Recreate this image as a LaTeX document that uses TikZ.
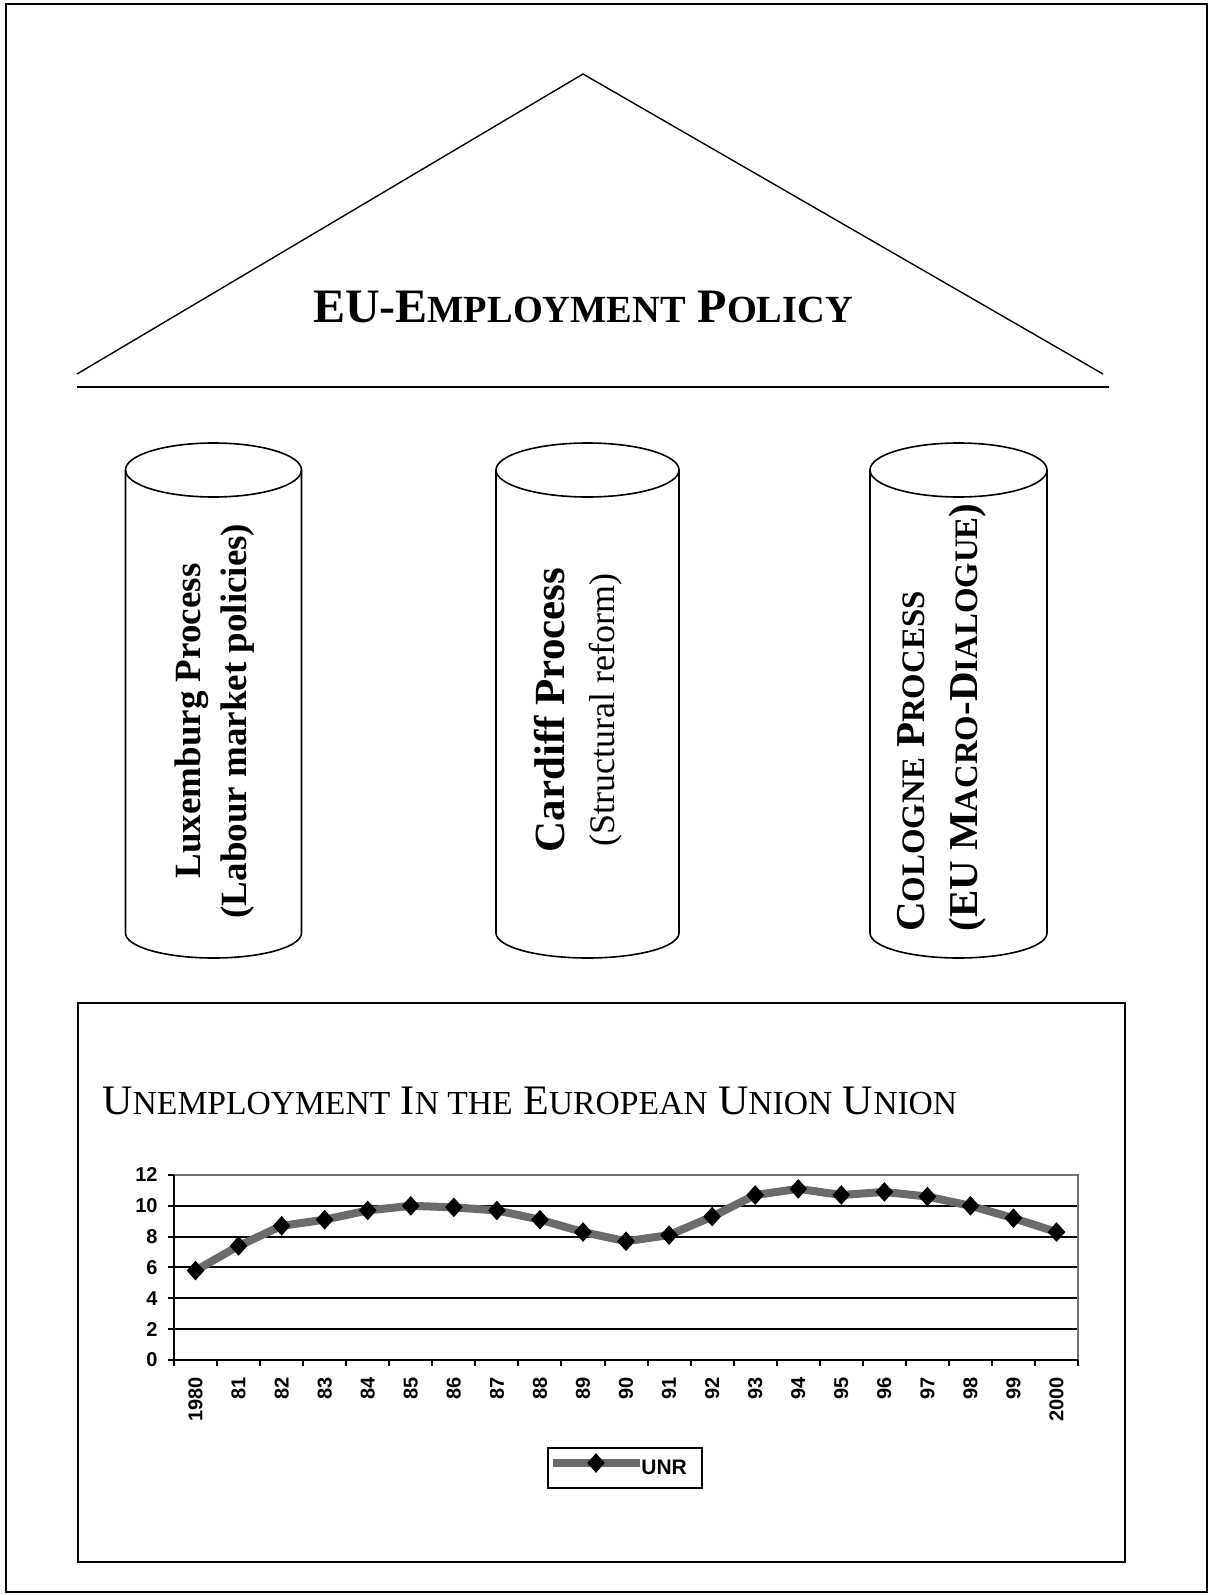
\documentclass[tikz,border=0pt]{standalone}
\usepackage{fontspec}
\setmainfont{Liberation Serif}
\setsansfont{Liberation Sans}
\usetikzlibrary{positioning,shapes.geometric}

% fake small caps (the source font has none)
\makeatletter
\newcommand{\lowcaps}[1]{{\@tempdima=\f@size pt\@tempdima=0.8\@tempdima
  \fontsize{\strip@pt\@tempdima}{\f@baselineskip}\selectfont #1}}
\makeatother

\begin{document}
\begin{tikzpicture}[x=0.5pt, y=-0.5pt,
  thin line/.style={line width=0.7pt},
  pillar/.style={line width=0.8pt},
  pillar text/.style={rotate=90, inner sep=0pt},
  grid line/.style={line width=1pt},
  tick label/.style={font=\sffamily\bfseries\fontsize{10}{12}\selectfont, inner sep=0pt},
  series/.style={line width=4pt, black!58},
  marker/.style={diamond, fill=black, inner sep=0pt, minimum width=9pt, minimum height=10pt}]
  \useasboundingbox (0,0) rectangle (1209,1595);

  % Frames
  \draw[line width=1pt] (6,4) rectangle (1207,1592);
  \draw[line width=1pt] (78,1003) rectangle (1125,1562);

  % Roof
  \coordinate (apex) at (583,74);
  \coordinate (eaveL) at (77,374);
  \coordinate (eaveR) at (1103,374);
  \draw[thin line] (eaveL) -- (apex) -- (eaveR);
  \draw[line width=1.2pt] (77,387) -- (1109,387);
  \node[anchor=base, font=\bfseries\fontsize{24}{28}\selectfont] (policy) at (583,322)
    {EU-E\lowcaps{MPLOYMENT} P\lowcaps{OLICY}};

  % Pillars
  \foreach \cx/\hw in {213.5/88, 587.5/91.5, 958.5/88.5} {
    \draw[pillar] (\cx-\hw,470) -- (\cx-\hw,933)
      arc[start angle=180, end angle=0, x radius=\hw, y radius=25] -- (\cx+\hw,470);
    \draw[pillar] (\cx,470) ellipse[x radius=\hw, y radius=27];
  }
  \node[pillar text, align=center, font=\bfseries\fontsize{18.5}{23}\selectfont] (luxemburg) at (215,721)
    {Luxemburg Process\\(Labour market policies)};
  \node[pillar text, align=center, font=\fontsize{18}{25}\selectfont] (cardiff) at (578,710)
    {{\bfseries\fontsize{21.5}{25}\selectfont Cardiff Process}\\(Structural reform)};
  \node[pillar text, align=left, anchor=west, font=\bfseries\fontsize{20.5}{26.5}\selectfont] (cologne) at (941.5,932)
    {C\lowcaps{OLOGNE} P\lowcaps{ROCESS}\\(EU M\lowcaps{ACRO}-D\lowcaps{IALOGUE})};

  % Chart
  \node[anchor=base west, inner sep=0pt, font=\fontsize{21}{25}\selectfont] (charttitle) at (102,1114)
    {U\lowcaps{NEMPLOYMENT} I\lowcaps{N THE} E\lowcaps{UROPEAN} U\lowcaps{NION} U\lowcaps{NION}};

  \def\ox{174} \def\oy{1360} \def\dx{43.05} \def\dy{15.42}
  \foreach \g in {2,4,...,10}
    \draw[grid line] (\ox,\oy-\dy*\g) -- (1078,\oy-\dy*\g);
  \draw[grid line, black!55] (\ox,\oy-\dy*12) -- (1078,\oy-\dy*12) -- (1078,\oy);
  \draw[grid line] (\ox,\oy-\dy*12) -- (\ox,\oy) -- (1078,\oy);
  \foreach \g in {0,2,...,12} {
    \draw[grid line] (\ox-6,\oy-\dy*\g) -- (\ox,\oy-\dy*\g);
    \node[tick label, anchor=east] (ylab\g) at (\ox-16,\oy-\dy*\g) {\g};
  }
  \foreach \i in {0,...,21}
    \draw[grid line] (\ox+\dx*\i,\oy) -- (\ox+\dx*\i,\oy+6);
  \foreach \lab [count=\i from 0] in {1980,81,82,83,84,85,86,87,88,89,90,91,92,93,94,95,96,97,98,99,2000}
    \node[tick label, rotate=90, anchor=east] (xlab\i) at (\ox+\dx*\i+\dx/2,\oy+17) {\lab};

  % Unemployment rate
  \foreach \v [count=\i from 0] in {5.8,7.4,8.7,9.1,9.7,10.0,9.9,9.7,9.1,8.3,7.7,8.1,9.3,10.7,11.1,10.7,10.9,10.6,10.0,9.2,8.3}
    \coordinate (p\i) at (\ox+\dx*\i+\dx/2,\oy-\dy*\v);
  \draw[series, line join=round] (p0) \foreach \i in {1,...,20} {-- (p\i)};
  \foreach \i in {0,...,20}
    \node[marker] (m\i) at (p\i) {};

  % Legend
  \node[draw, line width=0.8pt, minimum width=77pt, minimum height=20pt, inner sep=0pt] (legend) at (625,1468) {};
  \coordinate (keyL) at (553,1463);
  \coordinate (keyR) at (640,1463);
  \draw[series] (keyL) -- (keyR);
  \node[marker] (keymark) at (596,1463) {};
  \node[tick label, font=\sffamily\bfseries\fontsize{10.5}{12}\selectfont, anchor=west] (unr) at (641,1467) {UNR};
\end{tikzpicture}
\end{document}
